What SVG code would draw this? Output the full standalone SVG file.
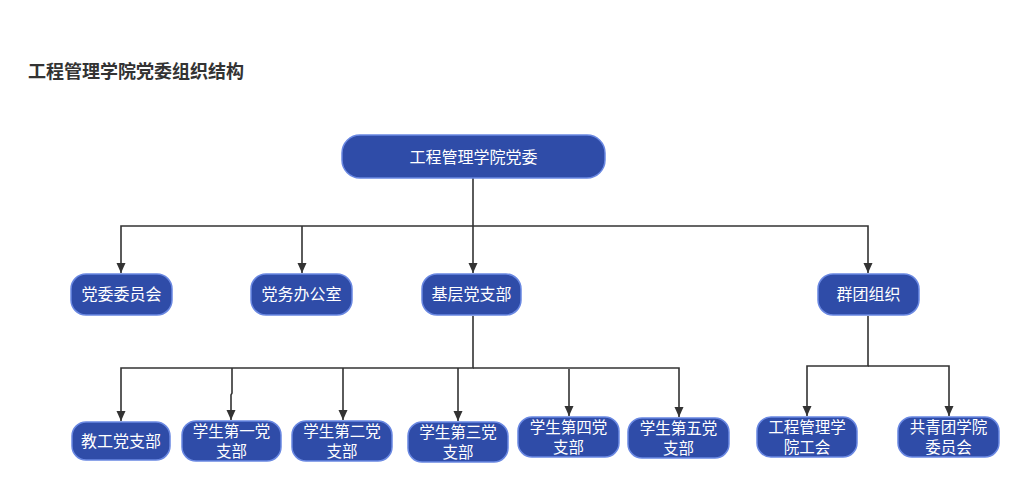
<svg xmlns="http://www.w3.org/2000/svg" width="1024" height="487" viewBox="0 0 1024 487">
<style>
.n rect{fill:#2f4ca8;stroke:#6a88e2;stroke-width:1.5}
.n text{fill:#fff;font-family:"Noto Sans CJK SC","Liberation Sans",sans-serif;font-size:16px;text-anchor:middle}
.n text.s{font-size:15.5px}
.c path{fill:none;stroke:#333;stroke-width:1.6}
.t{fill:#333;font-family:"Noto Sans CJK SC","Liberation Sans",sans-serif;font-size:18px;font-weight:bold}
</style>
<defs>
<marker id="a" markerUnits="userSpaceOnUse" markerWidth="10" markerHeight="10" refX="10" refY="5" orient="auto">
<path d="M0,0.5 L10,5 L0,9.5 z" fill="#333"/>
</marker>
</defs>
<rect width="1024" height="487" fill="#fff"/>
<text class="t" x="28" y="78">工程管理学院党委组织结构</text>
<g class="c">
<path d="M473,178 V226"/>
<path d="M473,226 H121 V273" marker-end="url(#a)"/>
<path d="M302,226 V273" marker-end="url(#a)"/>
<path d="M473,226 V273" marker-end="url(#a)"/>
<path d="M473,226 H868 V273" marker-end="url(#a)"/>
<path d="M473,316 V368 H121 V421" marker-end="url(#a)"/>
<path d="M473,368 H679 V417" marker-end="url(#a)"/>
<path d="M232,368 V393 L231,395 V420" marker-end="url(#a)"/>
<path d="M343,368 V420" marker-end="url(#a)"/>
<path d="M458,368 V421" marker-end="url(#a)"/>
<path d="M569,369 V416" marker-end="url(#a)"/>
<path d="M868,316 V366 H807 V416" marker-end="url(#a)"/>
<path d="M868,366 H949 V416" marker-end="url(#a)"/>
</g>
<g id="root" class="n"><rect x="342" y="135" width="263" height="43" rx="18"/><text x="473.5" y="163">工程管理学院党委</text></g>
<g id="dwwyh" class="n"><rect x="71" y="274" width="101" height="41" rx="15"/><text x="121.5" y="300">党委委员会</text></g>
<g id="dwbgs" class="n"><rect x="251" y="274" width="101" height="41" rx="15"/><text x="301.5" y="300">党务办公室</text></g>
<g id="jcdzb" class="n"><rect x="422" y="274" width="99" height="41" rx="15"/><text x="471.5" y="300">基层党支部</text></g>
<g id="qtzz" class="n"><rect x="818" y="274" width="101" height="41" rx="15"/><text x="868.5" y="300">群团组织</text></g>
<g id="jgdzb" class="n"><rect x="72" y="422" width="98" height="38" rx="14"/><text x="121" y="447">教工党支部</text></g>
<g id="xs1" class="n"><rect x="182" y="421" width="99" height="40" rx="14"/><text class="s" x="231.5" y="437">学生第一党</text><text class="s" x="231.5" y="457">支部</text></g>
<g id="xs2" class="n"><rect x="292" y="421" width="100" height="40" rx="14"/><text class="s" x="342" y="437">学生第二党</text><text class="s" x="342" y="457">支部</text></g>
<g id="xs3" class="n"><rect x="408" y="422" width="100" height="40" rx="14"/><text class="s" x="458" y="438">学生第三党</text><text class="s" x="458" y="458">支部</text></g>
<g id="xs4" class="n"><rect x="518" y="417" width="101" height="40" rx="14"/><text class="s" x="568.5" y="433">学生第四党</text><text class="s" x="568.5" y="453">支部</text></g>
<g id="xs5" class="n"><rect x="628" y="418" width="101" height="40" rx="14"/><text class="s" x="678.5" y="434">学生第五党</text><text class="s" x="678.5" y="454">支部</text></g>
<g id="gh" class="n"><rect x="757" y="417" width="100" height="40" rx="14"/><text class="s" x="807" y="433">工程管理学</text><text class="s" x="807" y="453">院工会</text></g>
<g id="gqt" class="n"><rect x="898" y="417" width="101" height="40" rx="14"/><text class="s" x="948.5" y="433">共青团学院</text><text class="s" x="948.5" y="453">委员会</text></g>
</svg>
